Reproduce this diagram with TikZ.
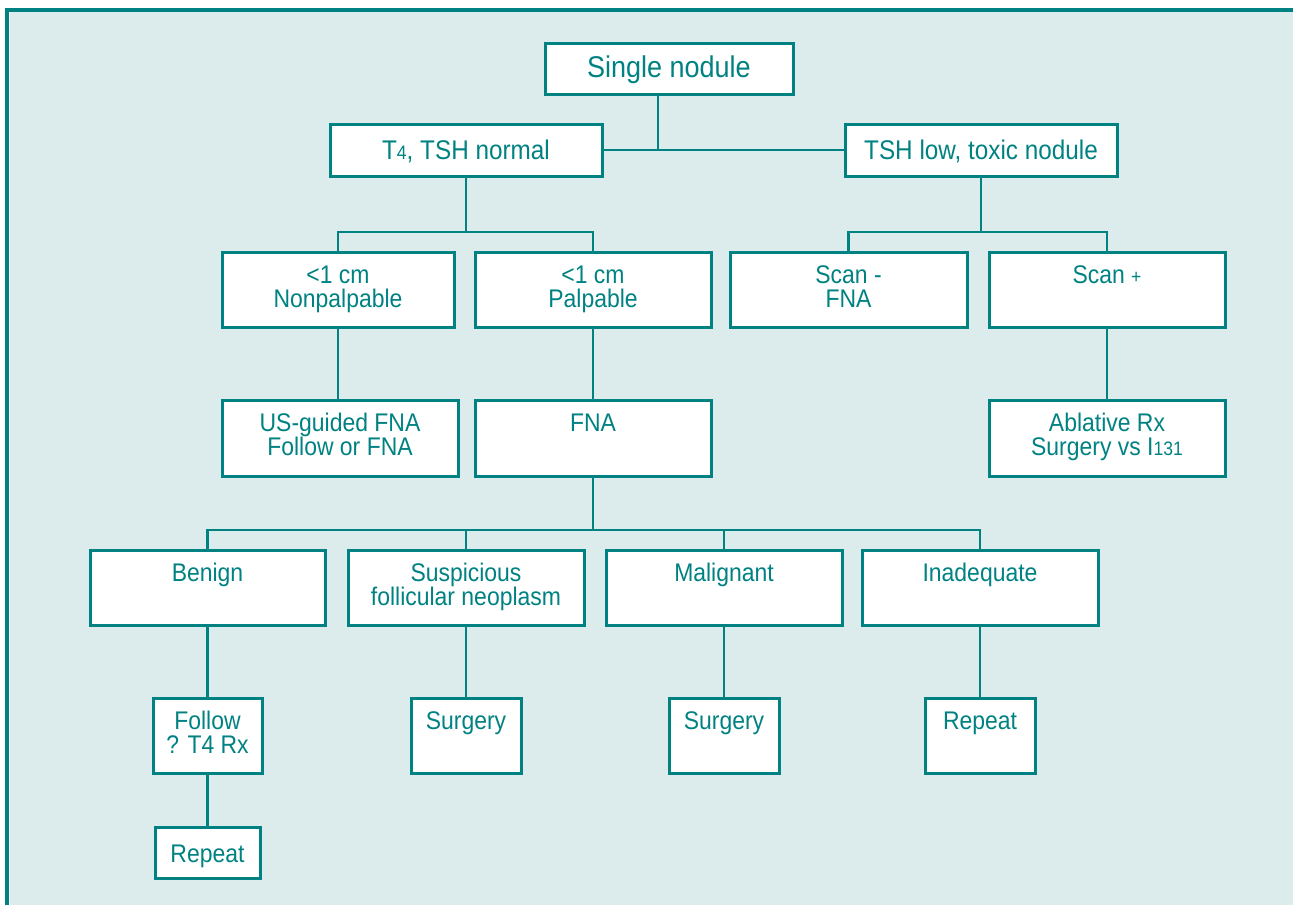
\documentclass[tikz,border=0pt]{standalone}
\usepackage{fontspec}
\setmainfont{Liberation Sans}[FakeStretch=0.9]
\definecolor{tealc}{RGB}{0,130,130}
\definecolor{bgc}{RGB}{220,235,235}
\newcommand\bx[4]{\parbox[c][#2pt][t]{#1pt}{\centering\rule{0pt}{#3pt}#4\par}}
\newcommand\sm[1]{{\fontsize{19.5}{19}\selectfont #1}}
\begin{document}
\begin{tikzpicture}[x=1pt,y=-1pt,
  box/.style={draw=tealc, line width=3pt, fill=white, inner sep=0pt, outer sep=0pt,
    anchor=north west, text=tealc, font=\fontsize{25.5}{24}\selectfont},
  conn/.style={draw=tealc, line width=2.6pt}]
\useasboundingbox (0,0) rectangle (1293,905);
\fill[white] (0,0) rectangle (1293,905);
\fill[bgc] (9.5,12) rectangle (1293,905);
\draw[tealc, line width=3.2pt] (7,905) -- (7,10) -- (1293,10);

% nodes
\node[box, font=\fontsize{30}{29}\selectfont] (sn) at (545,43) {\bx{248}{51}{34}{Single nodule}};
\node[box, font=\fontsize{27}{26}\selectfont] (t4) at (330,124) {\bx{272}{52}{35}{T\sm{4}, TSH normal}};
\node[box, font=\fontsize{27}{26}\selectfont] (tsh) at (845,124) {\bx{272}{52}{35}{TSH low, toxic nodule}};

\node[box] (np) at (222,252) {\bx{232}{75}{31}{<1 cm\\Nonpalpable}};
\node[box] (pp) at (475,252) {\bx{236}{75}{31}{<1 cm\\Palpable}};
\node[box] (sm) at (730,252) {\bx{237}{75}{31}{Scan -\\FNA}};
\node[box] (sp) at (989,252) {\bx{236}{75}{31}{Scan \sm{+}}};

\node[box] (us) at (222,400) {\bx{236}{76}{31}{US-guided FNA\\Follow or FNA}};
\node[box] (fna) at (475,400) {\bx{236}{76}{31}{FNA}};
\node[box] (abl) at (989,400) {\bx{236}{76}{31}{Ablative Rx\\Surgery vs I\sm{131}}};

\node[box] (ben) at (90,550) {\bx{235}{75}{31}{Benign}};
\node[box] (sus) at (348,550) {\bx{236}{75}{31}{Suspicious\\follicular neoplasm}};
\node[box] (mal) at (606,550) {\bx{236}{75}{31}{Malignant}};
\node[box] (ina) at (862,550) {\bx{236}{75}{31}{Inadequate}};

\node[box] (fol) at (153,698) {\bx{109}{75}{31}{Follow\\? T4 Rx}};
\node[box] (s1) at (411,698) {\bx{110}{75}{31}{Surgery}};
\node[box] (s2) at (669,698) {\bx{110}{75}{31}{Surgery}};
\node[box] (r1) at (925,698) {\bx{110}{75}{31}{Repeat}};
\node[box] (r2) at (155,827) {\bx{105}{51}{35}{Repeat}};

% connectors
\coordinate (j1) at (658,150);
\draw[conn] (sn.south -| j1) -- (j1 |- t4.east);
\draw[conn] (t4.east) -- (tsh.west);

\draw[conn] (t4.south) -- ++(0,56);
\draw[conn] (np.north) -- ++(0,-20) -| (pp.north);
\draw[conn] (tsh.south) -- ++(0,56);
\draw[conn] (sm.north) -- ++(0,-20) -| (sp.north);

\draw[conn] (np.south) -- (np.south |- us.north);
\draw[conn] (pp.south) -- (pp.south |- fna.north);
\draw[conn] (sp.south) -- (sp.south |- abl.north);

\draw[conn] (fna.south) -- ++(0,54);
\draw[conn] (ben.north) -- ++(0,-20) -| (ina.north);
\draw[conn] (sus.north) -- ++(0,-20);
\draw[conn] (mal.north) -- ++(0,-20);

\draw[conn] (ben.south) -- (ben.south |- fol.north);
\draw[conn] (sus.south) -- (sus.south |- s1.north);
\draw[conn] (mal.south) -- (mal.south |- s2.north);
\draw[conn] (ina.south) -- (ina.south |- r1.north);
\draw[conn] (fol.south) -- (fol.south |- r2.north);
\end{tikzpicture}
\end{document}
